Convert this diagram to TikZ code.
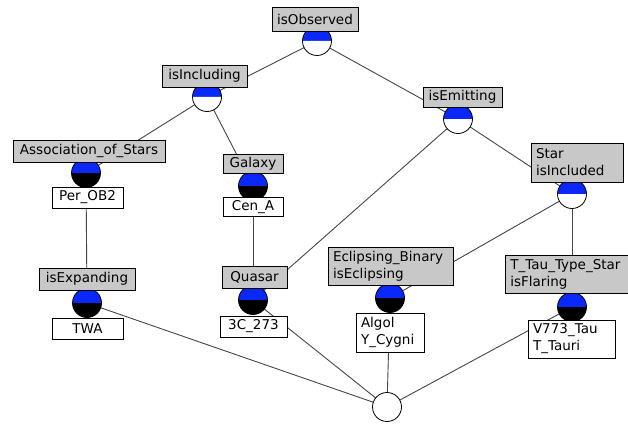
\documentclass[tikz,border=0pt]{standalone}
\usepackage{fontspec}
\setmainfont{DejaVu Sans}
\definecolor{boxgray}{RGB}{200,200,200}
\definecolor{topblue}{RGB}{10,40,250}
\definecolor{linegray}{RGB}{70,70,70}
\newcommand\lattnode[4]{%
  \node[conc] (#1) at (#2) {};
  \fill[#3] (#1.center) ++(-14.5pt,0) arc[start angle=180,end angle=0,radius=14.5pt] -- cycle;
  \fill[#4] (#1.center) ++(-14.5pt,0) arc[start angle=180,end angle=360,radius=14.5pt] -- cycle;
  \draw[line width=0.8pt] (#1.center) circle[radius=14.5pt];
}
\begin{document}
\begin{tikzpicture}[x=1pt,y=-1pt,
  conc/.style={circle,minimum size=29pt,inner sep=0pt},
  lbl/.style={draw=black,fill=boxgray,line width=0.8pt,font=\fontsize{13.5}{17}\selectfont,inner sep=0pt,minimum height=22pt},
  obj/.style={draw=black,fill=white,line width=0.8pt,font=\fontsize{13.5}{17}\selectfont,inner sep=0pt,minimum height=21pt},
  multi/.style={align=left,inner xsep=5pt,inner ysep=2pt},
  edge/.style={draw=linegray,line width=0.9pt}]
\useasboundingbox (0,0) rectangle (628,425);
\clip (0,0) rectangle (628,425);
\fill[white] (0,0) rectangle (628,425);
% concept circles (positions)
\coordinate (pO) at (317,41);
\coordinate (pI) at (207,97);
\coordinate (pA) at (86,173);
\coordinate (pG) at (253,186);
\coordinate (pE) at (458,119);
\coordinate (pS) at (572,194);
\coordinate (pX) at (87,303);
\coordinate (pQ) at (253,300);
\coordinate (pB) at (390,298);
\coordinate (pT) at (572,307);
\coordinate (pZ) at (387,407);
% edges
\draw[edge] (pO) -- (pI);
\draw[edge] (pO) -- (pE);
\draw[edge] (pI) -- (pA);
\draw[edge] (pI) -- (pG);
\draw[edge] (pE) -- (pQ);
\draw[edge] (pE) -- (pS);
\draw[edge] (pA) -- (pX);
\draw[edge] (pG) -- (pQ);
\draw[edge] (pS) -- (pB);
\draw[edge] (pS) -- (pT);
\draw[edge] (pX) -- (pZ);
\draw[edge] (pQ) -- (pZ);
\draw[edge] (pB) -- (pZ);
\draw[edge] (pT) -- (pZ);
% circles
\lattnode{O}{pO}{topblue}{white}
\lattnode{I}{pI}{topblue}{white}
\lattnode{A}{pA}{topblue}{black}
\lattnode{G}{pG}{topblue}{black}
\lattnode{E}{pE}{topblue}{white}
\lattnode{S}{pS}{topblue}{white}
\lattnode{X}{pX}{topblue}{black}
\lattnode{Q}{pQ}{topblue}{black}
\lattnode{B}{pB}{topblue}{black}
\lattnode{T}{pT}{topblue}{black}
\lattnode{Z}{pZ}{white}{white}
% attribute labels
\node[lbl,minimum width=86pt,minimum height=24pt] (lO) at (315,19) {isObserved};
\node[lbl,minimum width=85pt] (lI) at (204.5,76) {isIncluding};
\node[lbl,minimum width=152pt] (lA) at (89,151) {Association\_of\_Stars};
\node[lbl,minimum width=60pt,minimum height=19pt] (lG) at (253,164) {Galaxy};
\node[lbl,minimum width=79pt,minimum height=20pt] (lE) at (462.5,97) {isEmitting};
\node[lbl,multi,text width=82pt,minimum height=39pt] (lS) at (577,162.5) {Star\\isIncluded};
\node[lbl,minimum width=96pt] (lX) at (87,279) {isExpanding};
\node[lbl,minimum width=65pt] (lQ) at (254.5,277) {Quasar};
\node[lbl,multi,text width=115pt,minimum height=38pt] (lB) at (390.5,266) {Eclipsing\_Binary\\isEclipsing};
\node[lbl,multi,text width=135pt,minimum height=38pt,anchor=west] (lT) at (505,274) {T\_Tau\_Type\_Star\\isFlaring};
% object labels
\node[obj,minimum width=71pt] (oA) at (87.5,197.5) {Per\_OB2};
\node[obj,minimum width=60pt,minimum height=19pt] (oG) at (253,207) {Cen\_A};
\node[obj,minimum width=71pt] (oX) at (87.5,328.5) {TWA};
\node[obj,minimum width=67pt] (oQ) at (253.5,326.5) {3C\_273};
\node[obj,multi,text width=58pt,minimum height=39pt] (oB) at (390,332.5) {Algol\\Y\_Cygni};
\node[obj,multi,text width=77pt,minimum height=38pt] (oT) at (571.5,339) {V773\_Tau\\T\_Tauri};
\end{tikzpicture}
\end{document}
